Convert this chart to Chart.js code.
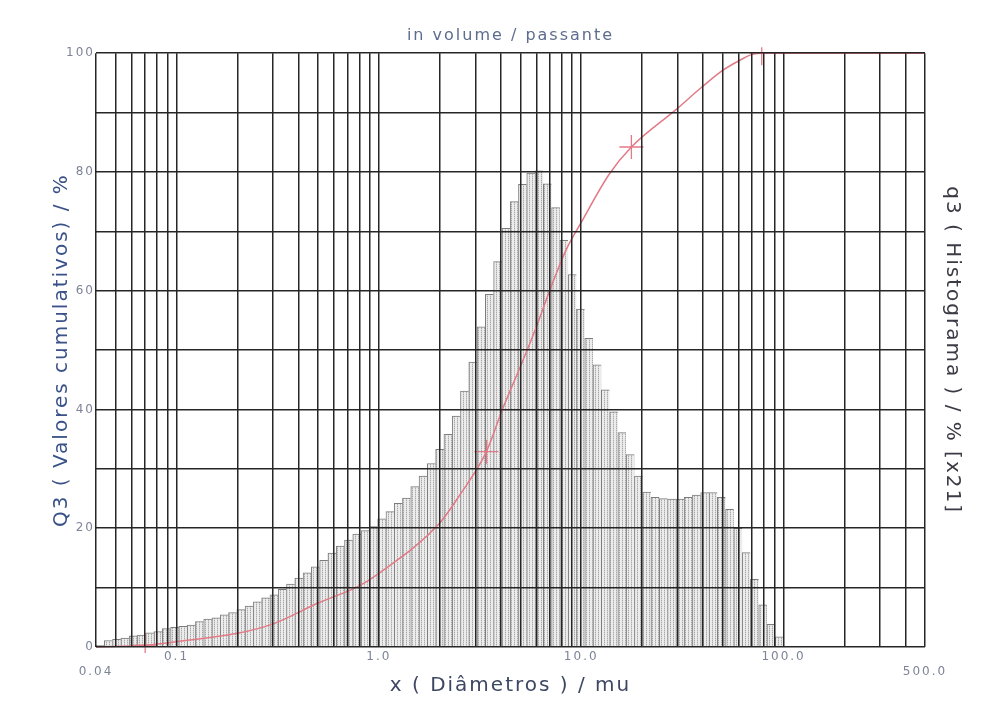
<!DOCTYPE html>
<html>
<head>
<meta charset="utf-8">
<title>in volume / passante</title>
<script src="https://cdn.jsdelivr.net/npm/chart.js@4.4.0/dist/chart.umd.min.js"></script>
<style>
    html, body { margin: 0; padding: 0; background: #fff; }
    #wrap { width: 999px; height: 707px; position: relative; }
</style>
</head>
<body>
<div id="wrap"><canvas id="chart"></canvas></div>
<script>
// histogram: bin centres (mu, log spaced 0.04 .. 100) and q3 heights
const binCenters = [
    0.04194, 0.04608, 0.05063, 0.05564, 0.06113, 0.06717, 0.07381, 0.0811, 0.08913, 0.09795,
    0.1076, 0.1183, 0.13, 0.1428, 0.1569, 0.1724, 0.1895, 0.2082, 0.2288, 0.2514,
    0.2762, 0.3035, 0.3335, 0.3665, 0.4027, 0.4425, 0.4863, 0.5343, 0.5871, 0.6452,
    0.7089, 0.779, 0.856, 0.9406, 1.034, 1.136, 1.248, 1.372, 1.507, 1.656,
    1.82, 2.0, 2.198, 2.415, 2.654, 2.916, 3.204, 3.521, 3.869, 4.251,
    4.671, 5.133, 5.641, 6.198, 6.811, 7.484, 8.224, 9.036, 9.932, 10.91,
    11.99, 13.18, 14.48, 15.91, 17.48, 19.21, 21.11, 23.2, 25.49, 28.01,
    30.78, 33.82, 37.16, 40.84, 44.87, 49.31, 54.18, 59.54, 65.42, 71.89,
    78.99, 86.8, 95.38
];
const q3Values = [
    0.3, 1.1, 1.3, 1.5, 1.9, 2.0, 2.4, 2.6, 3.1, 3.3,
    3.5, 3.7, 4.3, 4.7, 4.9, 5.4, 5.8, 6.3, 6.9, 7.6,
    8.3, 8.8, 9.7, 10.6, 11.6, 12.5, 13.5, 14.6, 15.8, 17.0,
    18.0, 19.0, 19.6, 20.3, 21.6, 22.8, 24.2, 25.1, 27.0, 28.8,
    30.9, 33.3, 35.8, 38.9, 43.1, 48.0, 53.9, 59.4, 64.9, 70.5,
    75.0, 77.9, 79.8, 80.2, 78.0, 74.0, 68.5, 62.7, 56.9, 52.0,
    47.5, 43.3, 39.6, 36.1, 32.4, 28.8, 26.1, 25.2, 25.0, 24.9,
    24.9, 25.2, 25.6, 26.0, 26.0, 25.2, 23.2, 20.0, 15.9, 11.4,
    7.1, 3.8, 1.7
];

// Q3 cumulative curve
const cumX = [0.04, 0.07, 0.1, 0.2, 0.3, 0.5, 0.8, 1.0, 2.0, 2.5, 3.4, 4.1, 5.0, 6.0, 7.0, 8.4, 10, 13.8, 17.7, 29.4, 39.5, 50, 61.5, 70, 78, 500];
const cumY = [0, 0.3, 0.9, 2.3, 3.9, 7.4, 10.3, 12.4, 20.9, 25.5, 32.9, 40.2, 47.2, 53.9, 60.1, 66.8, 71.5, 79.7, 84.2, 90.5, 94.3, 97.1, 98.9, 99.8, 100, 100];
const markerX = [0.07, 3.4, 17.7, 78];

// axes
const xGridValues = [0.04, 0.05, 0.06, 0.07, 0.08, 0.09, 0.1, 0.2, 0.3, 0.4, 0.5, 0.6, 0.7, 0.8, 0.9,
    1, 2, 3, 4, 5, 6, 7, 8, 9, 10, 20, 30, 40, 50, 60, 70, 80, 90, 100, 200, 300, 400, 500];
const xLabelValues = [0.04, 0.1, 1, 10, 100, 500];
const xLabelTexts = ['0.04', '0.1', '1.0', '10.0', '100.0', '500.0'];
const xLowLabels = ['0.04', '500.0']; // these two sit one line lower
const yLabelValues = [0, 20, 40, 60, 80, 100];

Chart.defaults.font.family = "'DejaVu Sans', sans-serif";
Chart.defaults.color = '#7d8498';

// stippled grey fill of the histogram bars
function hatch() {
    const c = document.createElement('canvas');
    c.width = 3; c.height = 2;
    const g = c.getContext('2d');
    g.fillStyle = '#ececec'; g.fillRect(0, 0, 3, 2);
    g.fillStyle = '#a9a9a9'; g.fillRect(1, 0, 1, 1);
    g.fillStyle = '#d2d2d2'; g.fillRect(1, 1, 1, 1);
    return g.createPattern(c, 'repeat');
}

// the scanned original has wide letter spacing
const spacing = {
    id: 'spacing',
    beforeDraw(chart) { chart.ctx.letterSpacing = '2px'; }
};

const gridColor = '#262626';

new Chart(document.getElementById('chart'), {
    type: 'bar',
    data: {
        datasets: [{
            type: 'line',
            label: 'Q3',
            data: cumX.map((x, i) => ({ x: x, y: cumY[i] })),
            yAxisID: 'y',
            borderColor: '#e27a86',
            borderWidth: 1.5,
            cubicInterpolationMode: 'monotone',
            pointStyle: 'cross',
            pointRadius: ctx => markerX.includes(cumX[ctx.dataIndex]) ? 12 : 0,
            pointBorderColor: '#e27a86',
            pointBorderWidth: 1.3,
            clip: 6,
            order: 0
        }, {
            type: 'bar',
            label: 'q3',
            data: binCenters.map((x, i) => ({ x: x, y: q3Values[i] })),
            yAxisID: 'y2',
            backgroundColor: hatch(),
            borderColor: '#7c7c7c',
            borderWidth: { top: 1, left: 1, right: 0, bottom: 0 },
            borderSkipped: false,
            barThickness: 'flex',
            categoryPercentage: 1,
            barPercentage: 1,
            order: 1
        }]
    },
    options: {
        responsive: true,
        maintainAspectRatio: false,
        animation: false,
        layout: { padding: 0 },
        plugins: {
            legend: { display: false },
            tooltip: { enabled: false },
            title: {
                display: true,
                text: 'in volume / passante',
                color: '#5d6d8e',
                font: { size: 16, weight: 'normal' },
                padding: { top: 26, bottom: 8 },
                fullSize: false
            }
        },
        scales: {
            x: {
                type: 'logarithmic',
                min: 0.04, max: 500,
                offset: false,
                afterBuildTicks: s => { s.ticks = xGridValues.map(v => ({ value: v })); },
                afterFit: s => { s.height = 60; },
                grid: { color: gridColor, lineWidth: 1.5, drawTicks: false, offset: false, z: 1 },
                border: { display: false },
                ticks: {
                    autoSkip: false, maxRotation: 0, padding: 3,
                    font: { size: 12 },
                    callback: v => {
                        const i = xLabelValues.indexOf(v);
                        if (i < 0) return '';
                        const t = xLabelTexts[i];
                        return xLowLabels.includes(t) ? ['', t] : t;
                    }
                },
                title: {
                    display: true,
                    text: 'x ( Diâmetros ) / mu',
                    color: '#3d4762',
                    font: { size: 20 },
                    padding: { top: 0, bottom: 9 }
                }
            },
            y: {
                position: 'left',
                min: 0, max: 100,
                afterFit: s => { s.width = 96; },
                grid: { color: gridColor, lineWidth: 1.5, drawTicks: false, z: 1 },
                border: { display: false },
                ticks: {
                    stepSize: 10, padding: 1,
                    font: { size: 12 },
                    callback: v => yLabelValues.includes(v) ? String(v) : ''
                },
                title: {
                    display: true,
                    text: 'Q3 ( Valores cumulativos) / %',
                    color: '#3a5288',
                    font: { size: 20 },
                    padding: { top: 50, bottom: 0 }
                }
            },
            y2: {
                position: 'right',
                min: 0, max: 100,
                afterFit: s => { s.width = 74; },
                grid: { drawOnChartArea: false, drawTicks: false },
                border: { display: false },
                ticks: { display: false },
                title: {
                    display: true,
                    text: 'q3 ( Histograma ) / % [x21]',
                    color: '#3b3b45',
                    font: { size: 20 },
                    padding: { top: 35, bottom: 0 }
                }
            }
        }
    },
    plugins: [spacing]
});
</script>
</body>
</html>
